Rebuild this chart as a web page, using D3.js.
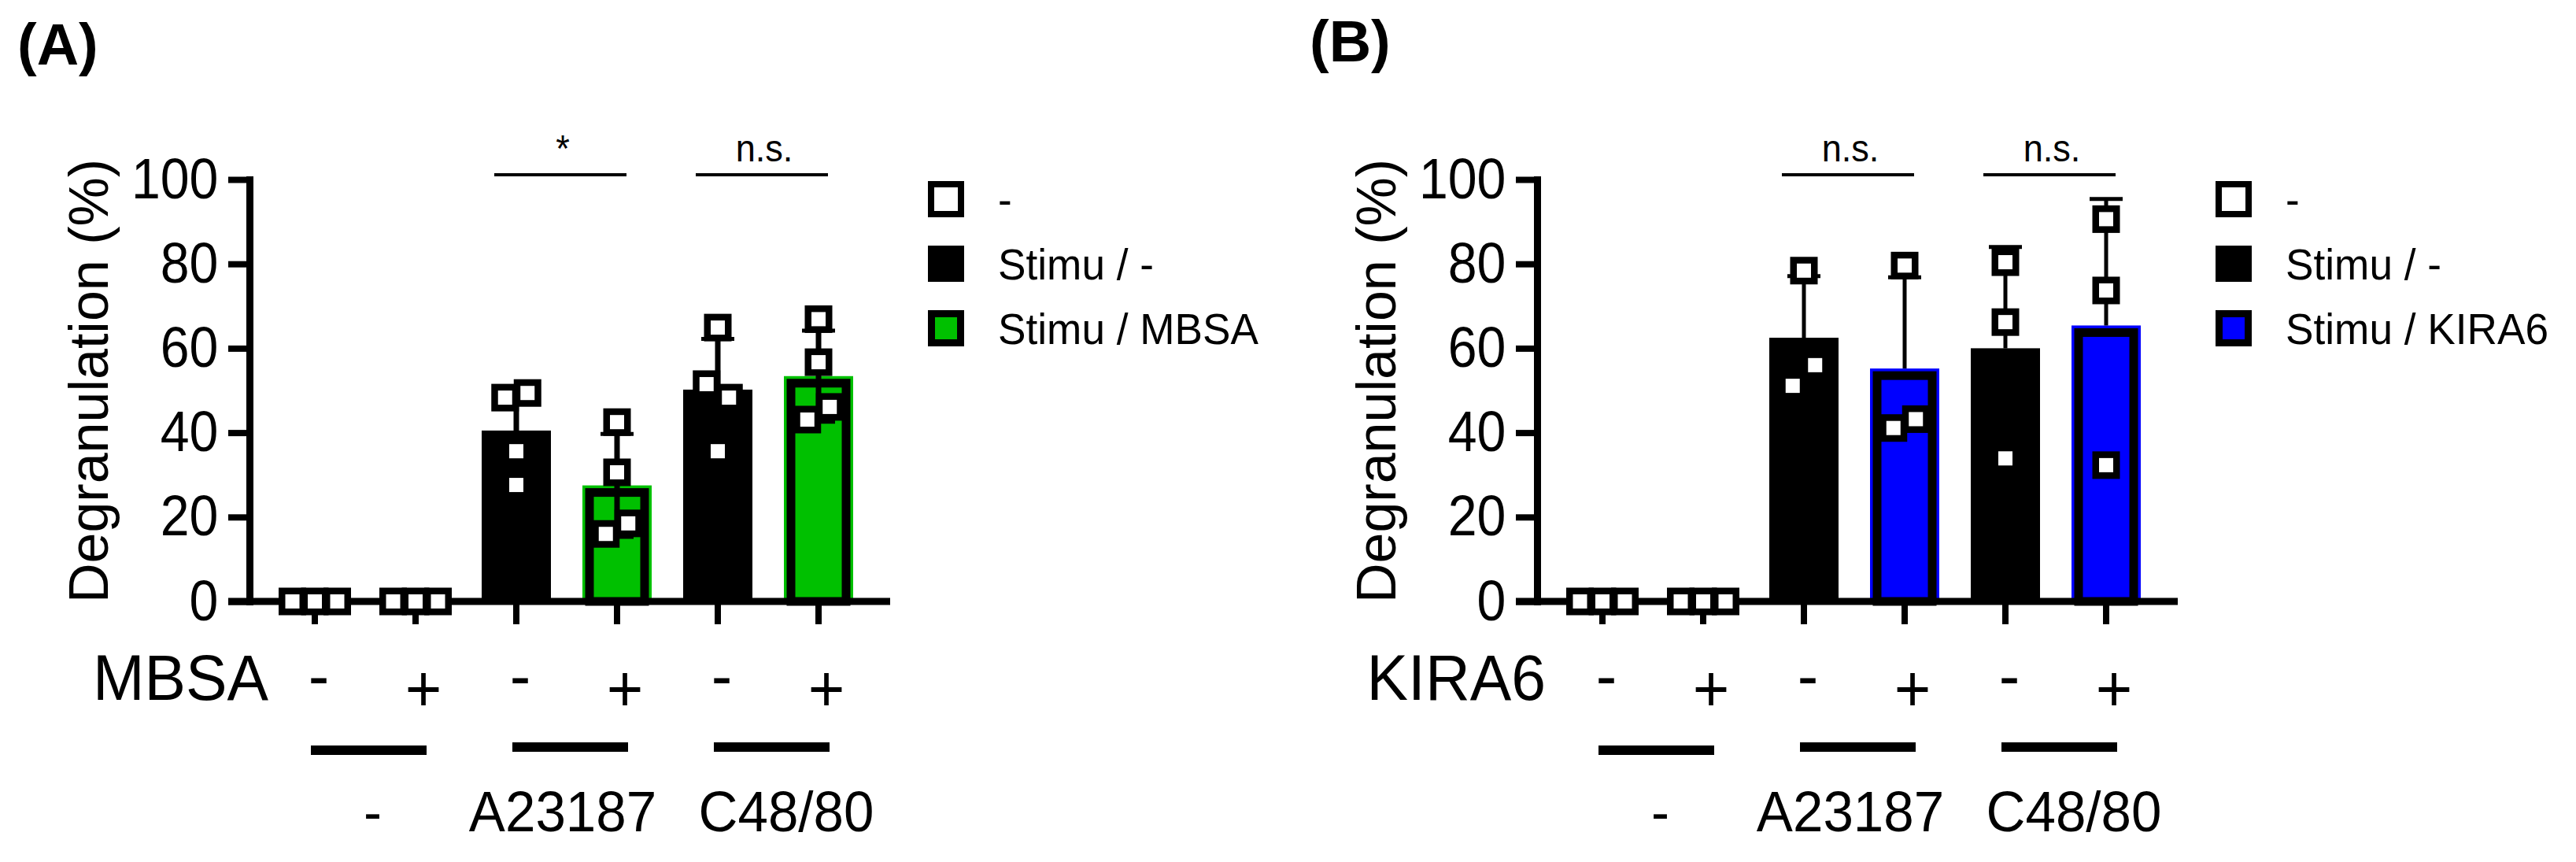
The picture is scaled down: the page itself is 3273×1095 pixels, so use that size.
<!DOCTYPE html>
<html>
<head>
<meta charset="utf-8">
<script src="https://cdn.jsdelivr.net/npm/d3@7"></script>
<style>
	body { margin: 0; background: #fff; }
	svg { display: block; font-family: "Liberation Sans", Arial, sans-serif; }
</style>
</head>
<body>
<div id="chart"></div>
<script>
// shared labels
var signs = ["-", "+", "-", "+", "-", "+"];
var groups = ["-", "A23187", "C48/80"];
var yTicks = [0, 20, 40, 60, 80, 100];
var yLabel = "Degranulation (%)";

// panel A : MBSA
var meansA = [0, 0, 40.5, 27.5, 50.2, 53.4];
var sdA = [0, 0, 10.5, 12.2, 12.0, 10.8];
var pointsA = [
	[0, 0, 0],
	[0, 0, 0],
	[48.3, 49.4, 35.6, 27.6],
	[42.5, 30.6, 16.0, 18.5],
	[64.9, 51.5, 48.3, 35.6],
	[66.9, 56.7, 43.1, 46.1]
];
var sigA = ["*", "n.s."];
var legendA = ["-", "Stimu / -", "Stimu / MBSA"];

// panel B : KIRA6
var meansB = [0, 0, 62.5, 55.2, 60.0, 65.4];
var sdB = [0, 0, 14.6, 21.6, 24.0, 30.0];
var pointsB = [
	[0, 0, 0],
	[0, 0, 0],
	[78.4, 51.1, 56.0],
	[79.6, 41.1, 43.2],
	[80.4, 66.2, 33.9],
	[90.6, 73.7, 32.3]
];
var sigB = ["n.s.", "n.s."];
var legendB = ["-", "Stimu / -", "Stimu / KIRA6"];

var panels = [
	{letter: "(A)", letterX: 22, letterY: 82, axisX: 317, drug: "MBSA", drugX: 341, color: "#00c000",
		means: meansA, sd: sdA, points: pointsA, sig: sigA, legend: legendA, errBoth: true, errW: 7},
	{letter: "(B)", letterX: 1664, letterY: 78, axisX: 1953, drug: "KIRA6", drugX: 1964, color: "#0000ff",
		means: meansB, sd: sdB, points: pointsB, sig: sigB, legend: legendB, errBoth: false, errW: 5}
];

var svg = d3.select("#chart").append("svg")
	.attr("width", 3273)
	.attr("height", 1095);

var y = d3.scaleLinear().domain([0, 100]).range([764, 228]);

var markSize = 26.5;
var spread = 28.5;
var barW = 88;
var groupNudge = [9.5, -5, 23];

// text squeezed sideways like the original export
var putText = function(g, str, x, yy, size, sx, anchor) {
	return g.append("text")
		.attr("transform", "translate(" + x + "," + yy + ") scale(" + sx + ",1)")
		.attr("text-anchor", anchor || "middle")
		.style("font-size", size + "px")
		.text(str);
};

// side by side offsets for points that would overlap
var swarm = function(vals) {
	var thr = (markSize + 8.5) / (y(0) - y(1));
	var order = d3.range(vals.length).sort(function(a, b) { return vals[a] - vals[b]; });
	var offs = vals.map(function() { return 0; });
	var cluster = [order[0]];
	var flush = function() {
		cluster.sort(function(a, b) { return a - b; });
		cluster.forEach(function(k, j) {
			offs[k] = (j - (cluster.length - 1) / 2) * spread;
		});
	};
	for (var n = 1; n < order.length; n++) {
		if (vals[order[n]] - vals[order[n - 1]] < thr) {
			cluster.push(order[n]);
		} else {
			flush();
			cluster = [order[n]];
		}
	}
	flush();
	return offs;
};

panels.forEach(function(p) {
	var g = svg.append("g");

	var x = d3.scaleBand()
		.domain(d3.range(6))
		.range([p.axisX + 19, p.axisX + 19 + 768])
		.padding(0);
	var cx = function(i) { return x(i) + x.bandwidth() / 2; };

	// panel letter
	g.append("text")
		.attr("x", p.letterX)
		.attr("y", p.letterY)
		.style("font-size", "74px")
		.style("font-weight", "bold")
		.text(p.letter);

	// y axis
	var yAxis = g.append("g")
		.attr("transform", "translate(" + p.axisX + ",0)")
		.call(d3.axisLeft(y).tickValues(yTicks).tickSize(27).tickSizeOuter(0).tickPadding(16));
	yAxis.select(".domain").attr("stroke-width", 9).attr("stroke-linecap", "square");
	yAxis.selectAll(".tick line").attr("stroke-width", 8);
	yAxis.selectAll(".tick text")
		.style("font-size", "72px")
		.style("font-family", "Liberation Sans, Arial, sans-serif")
		.attr("fill", "#000")
		.attr("transform", "scale(0.92,1)");

	g.append("text")
		.attr("transform", "translate(" + (p.axisX - 180) + ",484) rotate(-90)")
		.attr("text-anchor", "middle")
		.style("font-size", "70px")
		.text(yLabel);

	// bars
	var bars = g.selectAll(".bar")
		.data(p.means)
		.enter().append("rect")
		.attr("class", "bar")
		.attr("x", function(d, i) { return cx(i) - barW / 2; })
		.attr("y", function(d) { return y(d); })
		.attr("width", barW)
		.attr("height", function(d) { return y(0) - y(d); })
		.style("fill", function(d, i) { return i % 2 ? p.color : "black"; });

	// black frame of the treated bars
	g.selectAll(".frame")
		.data(p.means.filter(function(d, i) { return i % 2 && d > 0; }))
		.enter().append("rect")
		.attr("class", "frame")
		.attr("x", function(d, k) { return cx(2 * k + 3) - barW / 2 + 9; })
		.attr("y", function(d) { return y(d) + 9; })
		.attr("width", barW - 18)
		.attr("height", function(d) { return y(0) - y(d) - 9; })
		.style("fill", "none")
		.attr("stroke", "black")
		.attr("stroke-width", 11);

	// x axis
	g.append("line")
		.attr("x1", p.axisX - 27)
		.attr("x2", p.axisX + 814)
		.attr("y1", y(0))
		.attr("y2", y(0))
		.attr("stroke", "black")
		.attr("stroke-width", 9);
	var xAxis = g.append("g")
		.attr("transform", "translate(0," + y(0) + ")")
		.call(d3.axisBottom(x).tickSize(29).tickSizeOuter(0).tickFormat(""));
	xAxis.select(".domain").remove();
	xAxis.selectAll(".tick line").attr("stroke-width", 8);

	// error bars
	var err = d3.range(6).filter(function(i) { return p.sd[i] > 0; });
	var lo = function(i) { return p.errBoth ? p.means[i] - p.sd[i] : p.means[i]; };
	g.selectAll(".err")
		.data(err)
		.enter().append("line")
		.attr("class", "err")
		.attr("x1", cx)
		.attr("x2", cx)
		.attr("y1", function(i) { return y(lo(i)); })
		.attr("y2", function(i) { return y(p.means[i] + p.sd[i]); })
		.attr("stroke", "black")
		.attr("stroke-width", p.errW);
	var caps = err.map(function(i) { return {i: i, v: p.means[i] + p.sd[i]}; });
	if (p.errBoth) {
		caps = caps.concat(err.map(function(i) { return {i: i, v: p.means[i] - p.sd[i]}; }));
	}
	g.selectAll(".cap")
		.data(caps)
		.enter().append("line")
		.attr("class", "cap")
		.attr("x1", function(d) { return cx(d.i) - 21; })
		.attr("x2", function(d) { return cx(d.i) + 21; })
		.attr("y1", function(d) { return y(d.v); })
		.attr("y2", function(d) { return y(d.v); })
		.attr("stroke", "black")
		.attr("stroke-width", 5);

	// individual points
	var pts = [];
	p.points.forEach(function(vals, i) {
		var offs = swarm(vals);
		vals.forEach(function(v, k) { pts.push({i: i, v: v, o: offs[k]}); });
	});
	g.selectAll(".pt")
		.data(pts)
		.enter().append("rect")
		.attr("class", "pt")
		.attr("x", function(d) { return cx(d.i) + d.o - markSize / 2; })
		.attr("y", function(d) { return y(d.v) - markSize / 2; })
		.attr("width", markSize)
		.attr("height", markSize)
		.style("fill", "white")
		.attr("stroke", "black")
		.attr("stroke-width", 8.5);

	// significance
	p.sig.forEach(function(s, k) {
		var a = cx(2 + 2 * k) - 28, b = cx(3 + 2 * k) + 12;
		g.append("line")
			.attr("x1", a).attr("x2", b)
			.attr("y1", 222).attr("y2", 222)
			.attr("stroke", "black")
			.attr("stroke-width", 4);
		putText(g, s, (a + b) / 2 + 3, 205, 48, 0.94);
	});

	// treatment row
	putText(g, p.drug, p.drugX, 889, 82, 0.96, "end");
	signs.forEach(function(s, i) {
		putText(g, s, cx(i) + (s == "+" ? 10 : 5), s == "+" ? 903 : 887, 84, 0.95);
	});

	// stimulus row
	groups.forEach(function(s, k) {
		g.append("rect")
			.attr("x", cx(2 * k) - 5)
			.attr("y", k == 0 ? 947 : 943)
			.attr("width", 147)
			.attr("height", 12)
			.style("fill", "black");
		putText(g, s, (cx(2 * k) + cx(2 * k + 1)) / 2 + groupNudge[k], 1056, 72, 0.96);
	});

	// legend
	var lx = p.axisX + 862;
	var rows = [253, 335, 417];
	g.append("rect").attr("x", lx + 4).attr("y", rows[0] - 19).attr("width", 38).attr("height", 38)
		.style("fill", "white").attr("stroke", "black").attr("stroke-width", 8);
	g.append("rect").attr("x", lx).attr("y", rows[1] - 23).attr("width", 46).attr("height", 46)
		.style("fill", "black");
	g.append("rect").attr("x", lx + 4.5).attr("y", rows[2] - 18.5).attr("width", 37).attr("height", 37)
		.style("fill", p.color).attr("stroke", "black").attr("stroke-width", 9);
	p.legend.forEach(function(s, k) {
		putText(g, s, p.axisX + 951, rows[k] + 20, 56, 0.95, "start");
	});
});
</script>
</body>
</html>
